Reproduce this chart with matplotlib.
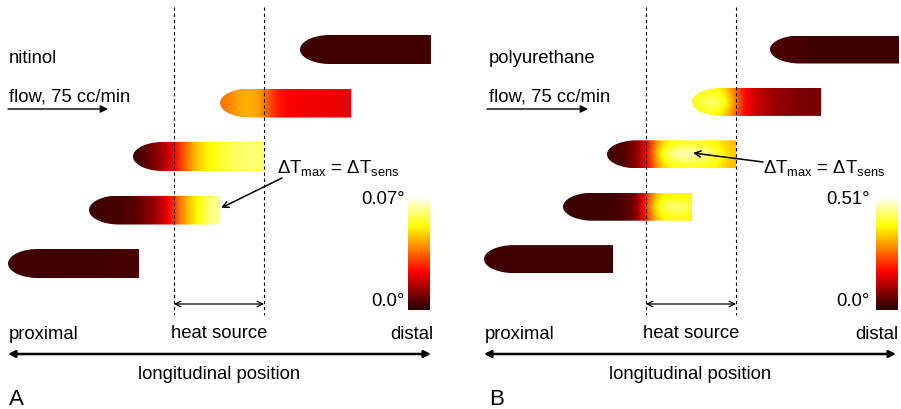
import numpy as np
import matplotlib
matplotlib.use("Agg")
import matplotlib.pyplot as plt
from matplotlib.colors import LinearSegmentedColormap, Normalize
from matplotlib.patches import Polygon

plt.rcParams["font.family"] = ["Liberation Sans", "DejaVu Sans"]
plt.rcParams["mathtext.fontset"] = "custom"
plt.rcParams["mathtext.rm"] = "Liberation Sans"
plt.rcParams["mathtext.it"] = "Liberation Sans:italic"

# ==========================================================
# DATA
# ==========================================================

materials = ["nitinol", "polyurethane"]
panel_letters = ["A", "B"]
scale_top = ["0.07°", "0.51°"]
scale_bottom = "0.0°"
flow_label = "flow, 75 cc/min"
dt_label = r"$\mathrm{ΔT_{max}}$ = $\mathrm{ΔT_{sens}}$"

# catheter tip position for each frame (top frame first)
nitinol_tip = [300, 220, 133, 89, 8]
polyurethane_tip = [298, 220, 135, 91, 12]

# heat source edges
heat_source = [174, 264]

# temperature rise along catheter, tip -> end, fraction of scale max
# (wall edge and catheter axis)
nitinol_edge = [
    [0.05, 0.05, 0.05, 0.05, 0.05, 0.05, 0.05, 0.05, 0.05, 0.05, 0.05],
    [0.52, 0.60, 0.62, 0.58, 0.40, 0.35, 0.33, 0.32, 0.32, 0.31, 0.30],
    [0.05, 0.12, 0.20, 0.33, 0.53, 0.66, 0.73, 0.80, 0.83, 0.85, 0.85],
    [0.05, 0.05, 0.055, 0.07, 0.12, 0.18, 0.29, 0.50, 0.66, 0.78, 0.90],
    [0.05, 0.05, 0.05, 0.05, 0.05, 0.05, 0.05, 0.05, 0.05, 0.055, 0.06],
]
nitinol_axis = nitinol_edge

polyurethane_edge = [
    [0.06, 0.06, 0.06, 0.045, 0.04, 0.04, 0.04, 0.04, 0.04, 0.04, 0.04],
    [0.72, 0.76, 0.72, 0.55, 0.33, 0.25, 0.20, 0.17, 0.15, 0.13, 0.12],
    [0.05, 0.07, 0.14, 0.34, 0.64, 0.74, 0.76, 0.76, 0.75, 0.72, 0.62],
    [0.04, 0.04, 0.04, 0.045, 0.05, 0.07, 0.15, 0.55, 0.72, 0.74, 0.74],
    [0.045, 0.045, 0.045, 0.045, 0.045, 0.045, 0.045, 0.045, 0.045, 0.045, 0.045],
]
polyurethane_axis = [
    [0.06, 0.06, 0.06, 0.045, 0.04, 0.04, 0.04, 0.04, 0.04, 0.04, 0.04],
    [0.80, 0.90, 0.86, 0.62, 0.35, 0.26, 0.21, 0.17, 0.15, 0.13, 0.12],
    [0.05, 0.08, 0.16, 0.36, 0.76, 0.94, 1.00, 0.98, 0.92, 0.82, 0.66],
    [0.04, 0.04, 0.04, 0.045, 0.05, 0.08, 0.18, 0.62, 0.86, 0.92, 0.84],
    [0.045, 0.045, 0.045, 0.045, 0.045, 0.045, 0.045, 0.045, 0.045, 0.045, 0.045],
]

# ==========================================================
# LAYOUT
# ==========================================================

panels = [
    dict(x0=0, tips=nitinol_tip, edge=nitinol_edge, axis=nitinol_axis,
         row0=50.5, row_step=53.5, bar_h=29, bar_len=131,
         text_x=9, arrow_x=(8, 108), dt_xy=(277, 173),
         dt_arrow=((282, 179), (221, 209)),
         long_arrow=(8, 431), cbar=(408, 430), cbar_lbl=405),
    dict(x0=472, tips=polyurethane_tip, edge=polyurethane_edge,
         axis=polyurethane_axis,
         row0=50.5, row_step=52.4, bar_h=28, bar_len=129,
         text_x=17, arrow_x=(15, 116), dt_xy=(291, 173),
         dt_arrow=((291, 163), (221, 154)),
         long_arrow=(12, 424), cbar=(404, 426), cbar_lbl=398),
]

cmap = LinearSegmentedColormap.from_list(
    "hot_cut", plt.cm.hot(np.linspace(0.04, 1.0, 256)))
norm = Normalize(0, 1)

fig = plt.figure(figsize=(9.01, 4.10), dpi=100)
ax = fig.add_axes([0, 0, 1, 1])
ax.set_xlim(0, 901)
ax.set_ylim(410, 0)
ax.axis("off")

FS = 13.3


def catheter(x0, yc, length, h, edge, axis_vals):
    a = 30
    t = np.linspace(-np.pi / 2, np.pi / 2, 60)
    cap = np.column_stack([x0 + a - a * np.cos(t), yc + h / 2 * np.sin(t)])
    pts = np.vstack([[x0 + length, yc - h / 2], cap, [x0 + length, yc + h / 2]])
    patch = Polygon(pts, closed=True, fill=False, edgecolor="none")
    ax.add_patch(patch)
    grid = np.array([edge, axis_vals, edge])
    im = ax.imshow(grid, cmap=cmap, norm=norm, interpolation="bicubic",
                   extent=(x0, x0 + length, yc + h / 2, yc - h / 2),
                   aspect="auto", zorder=1)
    im.set_clip_path(patch)


for i, p in enumerate(panels):
    x0 = p["x0"]

    # catheter frames
    for k in range(len(p["tips"])):
        yc = p["row0"] + k * p["row_step"]
        catheter(x0 + p["tips"][k], yc, p["bar_len"], p["bar_h"],
                 p["edge"][k], p["axis"][k])

    # heat source dashed lines
    for hx in heat_source:
        ax.plot([x0 + hx, x0 + hx], [8, 316], color="k", lw=0.8,
                ls=(0, (3, 2.5)), zorder=3)

    ax.annotate("", xy=(x0 + heat_source[1], 305), xytext=(x0 + heat_source[0], 305),
                arrowprops=dict(arrowstyle="<->", lw=0.9, color="k",
                                mutation_scale=10, shrinkA=0, shrinkB=0))
    mid = x0 + (heat_source[0] + heat_source[1]) / 2
    ax.text(mid, 338, "heat source", ha="center", va="baseline", fontsize=FS)

    # labels
    tx = x0 + p["text_x"]
    ax.text(tx, 63, materials[i], ha="left", va="baseline", fontsize=FS)
    ax.text(tx, 102, flow_label, ha="left", va="baseline", fontsize=FS)
    ax.annotate("", xy=(x0 + p["arrow_x"][1], 110), xytext=(x0 + p["arrow_x"][0], 110),
                arrowprops=dict(arrowstyle="-|>", lw=1.0, color="k",
                                mutation_scale=11, shrinkA=0, shrinkB=0))

    ax.text(x0 + p["dt_xy"][0], p["dt_xy"][1], dt_label, ha="left",
            va="baseline", fontsize=FS)
    (sx, sy), (ex, ey) = p["dt_arrow"]
    ax.annotate("", xy=(x0 + ex, ey), xytext=(x0 + sx, sy),
                arrowprops=dict(arrowstyle="->", lw=1.1, color="k",
                                mutation_scale=11, shrinkA=0, shrinkB=0),
                zorder=4)

    # longitudinal axis
    la, lb = p["long_arrow"]
    ax.annotate("", xy=(x0 + lb, 355), xytext=(x0 + la, 355),
                arrowprops=dict(arrowstyle="<|-|>", lw=1.8, color="k",
                                mutation_scale=10, shrinkA=0, shrinkB=0))
    ax.text(x0 + la + 1, 339, "proximal", ha="left", va="baseline", fontsize=FS)
    ax.text(x0 + lb + 2, 339, "distal", ha="right", va="baseline", fontsize=FS)
    ax.text(x0 + (la + lb) / 2, 379, "longitudinal position", ha="center",
            va="baseline", fontsize=FS)
    ax.text(tx, 405, panel_letters[i], ha="left", va="baseline", fontsize=16)

    # colour scale
    c0, c1 = p["cbar"]
    ax.imshow(np.linspace(0, 1, 256)[:, None], cmap=cmap, norm=norm,
              extent=(x0 + c0, x0 + c1, 311, 197), origin="lower",
              aspect="auto", zorder=1)
    ax.text(x0 + p["cbar_lbl"], 204, scale_top[i], ha="right", va="baseline",
            fontsize=FS)
    ax.text(x0 + p["cbar_lbl"], 306, scale_bottom, ha="right", va="baseline",
            fontsize=FS)

ax.set_xlim(0, 901)
ax.set_ylim(410, 0)

fig.savefig("out.png", dpi=100)
